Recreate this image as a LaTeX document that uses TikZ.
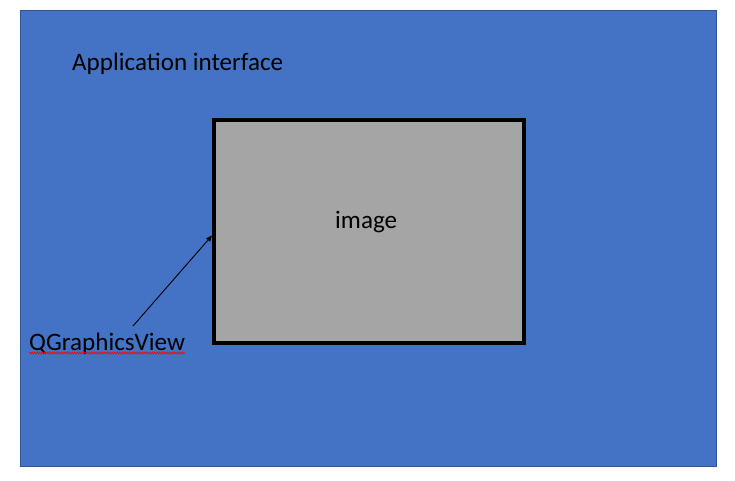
\documentclass[tikz,border=0pt]{standalone}
\usepackage{fontspec}
\setmainfont{Carlito}
\usepackage{xcolor}
\usetikzlibrary{arrows.meta, positioning, decorations.pathmorphing}

\definecolor{appblue}{HTML}{4472C4}
\definecolor{appedge}{HTML}{2F5597}
\definecolor{imggray}{HTML}{A5A5A5}

\begin{document}
\begin{tikzpicture}[
    x=1pt, y=1pt,
    window/.style={rectangle, draw=appedge, fill=appblue, line width=1pt, minimum width=696pt, minimum height=455pt, inner sep=0pt},
    imagebox/.style={rectangle, draw=black, fill=imggray, line width=4pt, minimum width=310pt, minimum height=223pt, inner sep=0pt},
    label/.style={font=\fontsize{25.1}{30}\selectfont, text=black, inner sep=0pt},
    arrow/.style={-{Triangle[length=6pt, width=5pt]}, line width=0.9pt}
]
\useasboundingbox (0,0) rectangle (735,480);

\node[window] (app) at (368,241.5) {};
\node[imagebox] (imgbox) at (369,248.5) {};

\node[label, anchor=base west] (apptext) at (72,409) {Application interface};
\node[label, anchor=base west] (imgtext) at (335,252) {image};
\node[label, anchor=base west] (view) at (29,130) {QGraphicsView};

\coordinate (tail) at (133,154);
\coordinate (tip) at ([yshift=-4pt]imgbox.west);
\draw[arrow] (tail) -- (tip);

% spell-check squiggle
\draw[red, line width=0.6pt, decorate, decoration={snake, amplitude=1pt, segment length=2.5pt}]
    ([yshift=-3pt]view.base west) -- ([yshift=-3pt]view.base east);

\end{tikzpicture}
\end{document}
